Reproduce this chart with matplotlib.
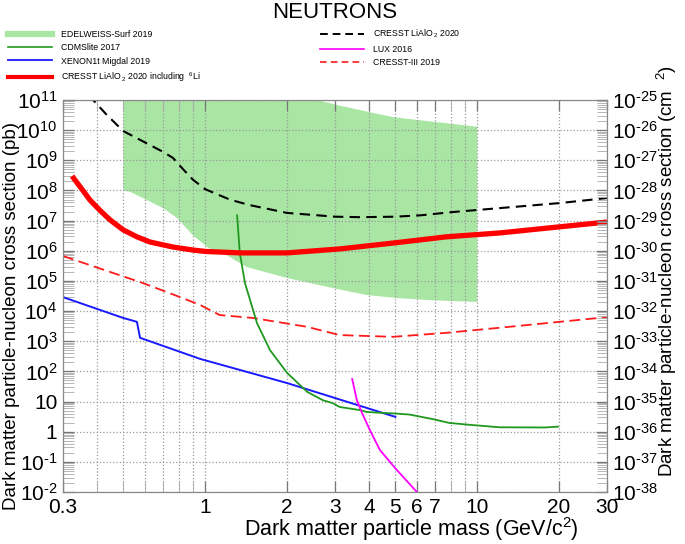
import matplotlib
matplotlib.use("Agg")
import matplotlib.pyplot as plt
from matplotlib.lines import Line2D
from matplotlib.ticker import LogLocator, NullFormatter, FixedLocator
import numpy as np

plt.rcParams['font.family'] = ['Liberation Sans', 'DejaVu Sans']
plt.rcParams['mathtext.fontset'] = 'custom'
plt.rcParams['mathtext.rm'] = 'Liberation Sans'
plt.rcParams['mathtext.it'] = 'Liberation Sans:italic'

# --- data (mass in GeV/c^2, cross section in pb) ---
# CRESST LiAlO2 2020 (black dashed)
cresst_li_m = [0.37, 0.387, 0.432, 0.499, 0.70, 0.761, 0.83, 0.90, 1.0, 1.23, 1.45, 2.0, 3.0, 3.71, 5.0, 6.2, 8.0, 12.1, 20, 30]
cresst_li_xs = [1.4e11, 1e11, 3.4e10, 9.4e9, 1.9e9, 1.2e9, 5e8, 2.3e8, 1.1e8, 5e7, 3.3e7, 1.8e7, 1.35e7, 1.3e7, 1.35e7, 1.5e7, 1.9e7, 2.6e7, 3.8e7, 5.6e7]

# CRESST LiAlO2 2020 including 6Li (thick red)
cresst_6li_m = [0.324, 0.338, 0.355, 0.377, 0.41, 0.447, 0.5, 0.561, 0.627, 0.761, 0.9, 1.0, 1.34, 2.0, 3.12, 4.9, 7.7, 12.1, 20, 30]
cresst_6li_xs = [3e8, 1.8e8, 1e8, 4.8e7, 2.2e7, 1.05e7, 4.9e6, 2.9e6, 1.95e6, 1.33e6, 1.06e6, 9.5e5, 8.5e5, 8.5e5, 1.15e6, 1.8e6, 2.9e6, 3.9e6, 6.2e6, 9e6]

# CRESST-III 2019 (red dashed)
cresst3_m = [0.3, 0.59, 0.808, 0.957, 1.13, 1.5, 2.37, 3.12, 4.9, 7.7, 12.1, 30]
cresst3_xs = [6.7e5, 8.5e4, 2.9e4, 1.6e4, 7.4e3, 5.9e3, 3e3, 1.6e3, 1.4e3, 1.9e3, 2.8e3, 6.3e3]

# XENON1t Migdal 2019
xenon_m = [0.3, 0.5, 0.561, 0.576, 0.957, 2.0, 5.0]
xenon_xs = [2.9e4, 5.9e3, 4.4e3, 1.3e3, 2.6e2, 41, 3.1]

# CDMSlite 2017
cdms_m = [1.31, 1.34, 1.4, 1.55, 1.73, 2.0, 2.37, 2.71, 2.94, 3.12, 3.71, 3.93, 5.0, 5.64, 6.88, 7.9, 9.6, 12.1, 17.7, 19.8]
cdms_xs = [1.5e7, 8.5e5, 8.5e4, 4e3, 5.1e2, 89, 21, 11, 8.9, 6.6, 5.2, 4.5, 4.0, 3.7, 2.6, 1.95, 1.66, 1.4, 1.38, 1.47]

# LUX 2016
lux_m = [3.47, 3.61, 3.77, 4.03, 4.39, 5.07, 6.0]
lux_xs = [56, 11, 4.2, 1.13, 0.245, 0.053, 0.01]

# EDELWEISS-Surf 2019 (band)
edw_low_m = [0.5, 0.53, 0.59, 0.70, 0.789, 0.9, 1.02, 1.1, 1.16, 1.42, 2.0, 2.94, 3.93, 5.07, 6.7, 10]
edw_low_xs = [1e8, 9e7, 5.6e7, 2.6e7, 1.2e7, 3.3e6, 1.3e6, 9e5, 8.5e5, 2.9e5, 1.25e5, 5.8e4, 3.4e4, 2.7e4, 2.3e4, 2e4]
edw_up_m = [0.5, 2.58, 3.05, 4.9, 10]
edw_up_xs = [1e11, 1e11, 6.8e10, 2.7e10, 1.3e10]

x_ticks = [0.3, 1, 2, 3, 4, 5, 6, 7, 10, 20, 30]
x_labels = ['0.3', '1', '2', '3', '4', '5', '6', '7', '10', '20', '30']
x_minor = [0.4, 0.5, 0.6, 0.7, 0.8, 0.9, 8, 9]
pb_exps = list(range(-2, 12))
cm_exps = list(range(-38, -24))

HY = '\u2010'  # short hyphen like the original exponents


def exp_label(e):
    if e == 0:
        return '1'
    if e == 1:
        return '10'
    s = str(e).replace('-', HY)
    return '$10^{' + s + '}$'


fig = plt.figure(figsize=(6.85, 5.44), dpi=100)
ax = fig.add_axes([63/685, 1 - 492/544, (607-63)/685, (492-100)/544])

edw_poly_m = np.concatenate([edw_low_m, edw_up_m[::-1]])
edw_poly_xs = np.concatenate([edw_low_xs, edw_up_xs[::-1]])
ax.fill(edw_poly_m, edw_poly_xs, color='#a9e6a4', lw=0, zorder=1)

ax.plot(cresst_li_m, cresst_li_xs, color='black', ls=(0, (5, 3)), lw=1.5, zorder=3)
ax.plot(cresst3_m, cresst3_xs, color='#ff1a1a', ls=(0, (6, 3)), lw=1.3, zorder=3)
ax.plot(xenon_m, xenon_xs, color='#1a1aff', lw=1.4, zorder=3)
ax.plot(cdms_m, cdms_xs, color='#1f991f', lw=1.3, zorder=3)
ax.plot(lux_m, lux_xs, color='#ff00ff', lw=1.3, zorder=3)
ax.plot(cresst_6li_m, cresst_6li_xs, color='#ff0000', lw=3.8, zorder=4, solid_capstyle='butt')

ax.set_xscale('log')
ax.set_yscale('log')
ax.set_xlim(0.3, 30)
ax.set_ylim(1e-2, 1e11)

ax.set_xticks(x_ticks, x_labels)
ax.xaxis.set_minor_locator(FixedLocator(x_minor))
ax.xaxis.set_minor_formatter(NullFormatter())
ax.set_yticks([10.0**e for e in pb_exps], [exp_label(e) for e in pb_exps])
ax.yaxis.set_minor_locator(LogLocator(base=10, subs=np.arange(2, 10), numticks=100))
ax.yaxis.set_minor_formatter(NullFormatter())

ax.grid(which='major', color='#999999', ls=':', lw=0.9)
ax.grid(which='minor', axis='x', color='#999999', ls=':', lw=0.9)

ax.tick_params(which='both', direction='in', top=True, labelsize=15, color='#777777')
ax.tick_params(which='major', length=8, width=0.9)
ax.tick_params(which='minor', length=8, width=0.6, color='#aaaaaa')
ax.tick_params(axis='x', pad=4)
ax.tick_params(axis='y', pad=4)
for sp in ax.spines.values():
    sp.set_color('#888888')

ax.set_xlabel('Dark matter particle mass (GeV/c$^{2}$)', fontsize=15.5)
ax.xaxis.set_label_coords((411-63)/544, -0.059)
ax.set_ylabel('Dark matter particle-nucleon cross section (pb)', fontsize=13.5)
ax.yaxis.set_label_coords(-0.079, 0.45)

ax2 = ax.twinx()
ax2.set_yscale('log')
ax2.set_ylim(1e-38, 1e-25)
ax2.set_yticks([10.0**e for e in cm_exps], [exp_label(e) for e in cm_exps])
ax2.yaxis.set_minor_locator(LogLocator(base=10, subs=np.arange(2, 10), numticks=100))
ax2.yaxis.set_minor_formatter(NullFormatter())
ax2.tick_params(which='both', direction='in', labelsize=15, color='#777777')
ax2.tick_params(which='major', length=8, width=0.9)
ax2.tick_params(which='minor', length=7, width=0.6, color='#aaaaaa')
ax2.set_ylabel('Dark matter particle-nucleon cross section (cm  $^{2}$)', fontsize=13.5, rotation=90)
ax2.yaxis.set_label_coords(1.088, 0.565)
for sp in ax2.spines.values():
    sp.set_color('#888888')

fig.text(335/685, 1 - 13/544, 'NEUTRONS', ha='center', va='center', fontsize=16)

handles = [
    Line2D([], [], color='#a9e6a4', lw=4.5),
    Line2D([], [], color='#1f991f', lw=1.2),
    Line2D([], [], color='#1a1aff', lw=1.3),
    Line2D([], [], color='#ff0000', lw=3),
    Line2D([], [], color='black', ls=(0, (4, 2.5)), lw=1.4),
    Line2D([], [], color='#ff00ff', lw=1.2),
    Line2D([], [], color='#ff1a1a', ls=(0, (4, 2.5)), lw=1.2),
]
labels = [
    'EDELWEISS-Surf 2019',
    'CDMSlite 2017',
    'XENON1t Migdal 2019',
    'CRESST LiAlO$_{\\,2}$ 2020 including  $^{6}$Li',
    'CRESST LiAlO$_{\\,2}$ 2020',
    'LUX 2016',
    'CRESST-III 2019',
]
fig.legend(handles, labels, ncol=2, loc='upper left', bbox_to_anchor=(6/685, 1 - 26/544),
           frameon=False, fontsize=6.3,
           handlelength=5.0, handletextpad=1.1,
           columnspacing=13.6, labelspacing=0.5, borderaxespad=0, borderpad=0.2)

fig.savefig('out.png', dpi=100)
